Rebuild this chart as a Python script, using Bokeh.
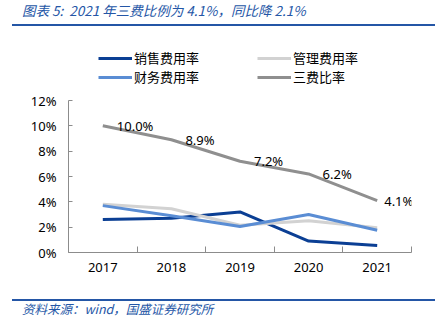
from bokeh.plotting import figure
from bokeh.layouts import column
from bokeh.models import (Range1d, FixedTicker, PrintfTickFormatter, Legend, LegendItem,
                          ColumnDataSource, Div)
from bokeh.core.properties import value
from bokeh.embed import file_html
from bokeh.resources import INLINE

years = [2017, 2018, 2019, 2020, 2021]
sales_rate = [2.6, 2.7, 3.2, 0.9, 0.55]      # 销售费用率
admin_rate = [3.8, 3.45, 2.15, 2.5, 1.95]    # 管理费用率
finance_rate = [3.7, 2.9, 2.05, 3.0, 1.75]   # 财务费用率
total_rate = [10.0, 8.9, 7.2, 6.2, 4.1]      # 三费比率
y_ticks = [0, 2, 4, 6, 8, 10, 12]

title_text = "图表 5:&nbsp; 2021 年三费比例为 4.1%，同比降 2.1%"
source_text = "资料来源：wind，国盛证券研究所"

W = 446
blue = "#2456A6"

# ---- header (title + rule) ----
title_div = Div(width=W, height=28, margin=0, text=(
    '<div style="position:relative;width:446px;height:28px;">'
    '<div style="position:absolute;left:22px;top:1px;white-space:nowrap;'
    'font-family:\'Noto Sans CJK SC\';font-style:italic;font-size:13.5px;line-height:18px;'
    f'color:{blue};">{title_text}</div>'
    f'<div style="position:absolute;left:12px;top:24px;width:423px;height:2px;background:{blue};"></div>'
    '</div>'))

# ---- chart ----
FIG_H = 268          # page y 28 .. 296
FRAME_BOTTOM = 224   # figure-relative y of the x axis
Y_TOP_PX = 72        # figure-relative y of 12%
y_max_view = 12 * FRAME_BOTTOM / (FRAME_BOTTOM - Y_TOP_PX)

p = figure(width=W, height=FIG_H, output_backend="svg", toolbar_location=None,
           x_range=Range1d(years[0] - 0.5, years[-1] + 0.5),
           y_range=Range1d(0, y_max_view),
           min_border_left=68, min_border_right=35, min_border_top=0,
           min_border_bottom=FIG_H - FRAME_BOTTOM, margin=0)
p.outline_line_color = None
p.xgrid.visible = False
p.ygrid.visible = False
p.background_fill_color = "white"
p.border_fill_color = "white"

axis_color = "#8c8c8c"
xa = p.xaxis[0]
xa.ticker = FixedTicker(ticks=years, minor_ticks=[y - 0.5 for y in years] + [years[-1] + 0.5])
xa.major_tick_in = 0
xa.major_tick_out = 0
xa.minor_tick_in = 6
xa.minor_tick_out = 0
xa.minor_tick_line_color = axis_color
xa.axis_line_color = axis_color
xa.major_label_text_font = "Noto Sans"
xa.major_label_text_font_size = "13px"
xa.major_label_text_color = "black"
xa.major_label_standoff = 10

ya = p.yaxis[0]
ya.bounds = (0, 12)
ya.ticker = FixedTicker(ticks=y_ticks)
ya.formatter = PrintfTickFormatter(format="%d%%")
ya.major_tick_in = 4
ya.major_tick_out = 0
ya.minor_tick_in = 0
ya.minor_tick_out = 0
ya.major_tick_line_color = axis_color
ya.axis_line_color = axis_color
ya.major_label_text_font = "Noto Sans"
ya.major_label_text_font_size = "13px"
ya.major_label_text_color = "black"
ya.major_label_standoff = 12

c_sales = "#0B3F94"
c_admin = "#D2D2D2"
c_fin = "#5A8DD4"
c_total = "#8F8F8F"

r_sales = p.line(years, sales_rate, line_color=c_sales, line_width=3)
r_admin = p.line(years, admin_rate, line_color=c_admin, line_width=3)
r_fin = p.line(years, finance_rate, line_color=c_fin, line_width=3)
r_total = p.line(years, total_rate, line_color=c_total, line_width=3)

lab_src = ColumnDataSource(dict(x=years, y=total_rate,
                                t=["%.1f%%" % v for v in total_rate],
                                dx=[14, 14, 14, 14, 7]))
p.text(x="x", y="y", text="t", x_offset="dx", source=lab_src,
       text_align="left", text_baseline="middle", text_font_size="13px",
       text_color="black", text_font=value("Noto Sans"))

def mk_legend(items, loc):
    lg = Legend(items=items, location=loc, orientation="vertical",
                padding=0, margin=0, spacing=0, border_line_color=None,
                background_fill_alpha=0, glyph_width=34, glyph_height=18,
                label_height=18, label_standoff=2,
                label_text_font="Noto Sans CJK SC", label_text_font_size="13px",
                label_text_color="black")
    p.add_layout(lg, "center")

# legend locations: frame-relative, from bottom-left of the frame
mk_legend([LegendItem(label="销售费用率", renderers=[r_sales]),
           LegendItem(label="财务费用率", renderers=[r_fin])], (30, 166))
mk_legend([LegendItem(label="管理费用率", renderers=[r_admin]),
           LegendItem(label="三费比率", renderers=[r_total])], (189, 166))

# ---- footer (rule + source) ----
foot_div = Div(width=W, height=33, margin=0, text=(
    '<div style="position:relative;width:446px;height:33px;">'
    f'<div style="position:absolute;left:12px;top:3px;width:423px;height:2px;background:{blue};"></div>'
    '<div style="position:absolute;left:22px;top:4px;white-space:nowrap;'
    'font-family:\'Noto Sans CJK SC\';font-style:italic;font-size:12.5px;line-height:17px;'
    f'color:{blue};">{source_text}</div>'
    '</div>'))

layout = column(title_div, p, foot_div, spacing=0, margin=0)
open("out.html", "w").write(file_html(layout, INLINE))
